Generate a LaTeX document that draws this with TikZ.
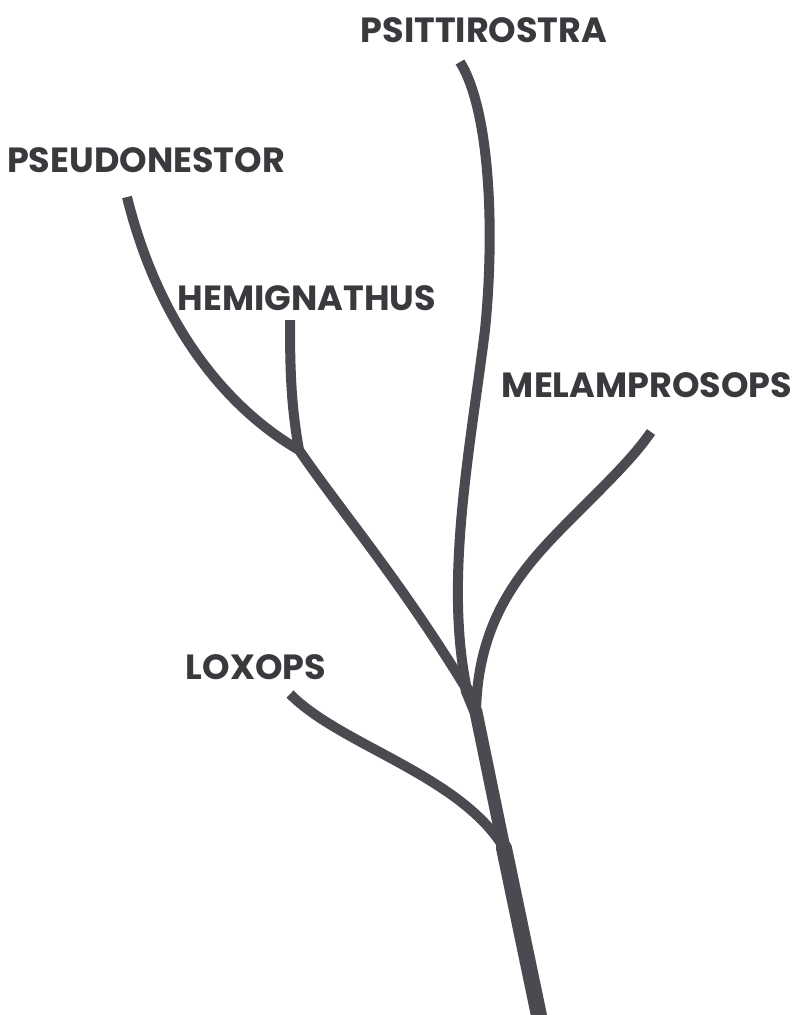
\documentclass[tikz,border=0pt]{standalone}
\usepackage{fontspec}
\setmainfont{Poppins}
\definecolor{barkgray}{RGB}{74,74,80}
\definecolor{inkgray}{RGB}{58,58,62}
\usetikzlibrary{positioning}
\tikzset{
  taxon/.style={
    text=inkgray, inner sep=0pt,
    font=\fontsize{35}{37}\selectfont\bfseries
  },
  stem/.style={draw=barkgray, line width=16pt, line cap=round},
  limb/.style={draw=barkgray, line width=13pt, line cap=round},
  twig/.style={draw=barkgray, line width=10pt},
}

\begin{document}
\begin{tikzpicture}[x=1pt, y=-1pt]
  \useasboundingbox (0,0) rectangle (795,1015);

  % genus labels
  \node (psitt)  [taxon] at (484,30)  {PSITTIROSTRA};
  \node (pseudo) [taxon] at (146,160) {PSEUDONESTOR};
  \node (hemig)  [taxon] at (307,298) {HEMIGNATHUS};
  \node (melam)  [taxon] at (647,385) {MELAMPROSOPS};
  \node (loxops) [taxon] at (256,667) {LOXOPS};

  % forks and tips
  \coordinate (root)    at (542,1030);
  \coordinate (forkLox) at (504,848);
  \coordinate (forkMel) at (476,712);
  \coordinate (forkTop) at (467,690);
  \coordinate (forkHem) at (299,450);
  \coordinate (tipPsitt)  at (460,62);
  \coordinate (tipPseudo) at (127,197);
  \coordinate (tipHemig)  at (290,320);
  \coordinate (tipMelam)  at (651,432);
  \coordinate (tipLox)    at (290,694);

  % trunk
  \draw [stem] (root) -- (forkLox);
  \draw [limb] (forkLox) -- (forkMel) -- (forkTop);

  % branches
  \draw [twig] (forkLox) .. controls (460,775) and (340,745) .. (tipLox);
  \draw [twig] (forkMel) .. controls (478,610) and (530,560) .. (580,510)
                         .. controls (615,475) and (635,455) .. (tipMelam);
  \draw [twig] (forkTop) .. controls (444,580) and (470,450) .. (485,330)
                         .. controls (495,230) and (490,110) .. (tipPsitt);
  \draw [twig] (forkTop) .. controls (400,580) and (340,510) .. (forkHem);
  \draw [twig] (forkHem) .. controls (230,410) and (160,330) .. (tipPseudo);
  \draw [twig] (forkHem) .. controls (291,405) and (290,370) .. (tipHemig);
\end{tikzpicture}
\end{document}
